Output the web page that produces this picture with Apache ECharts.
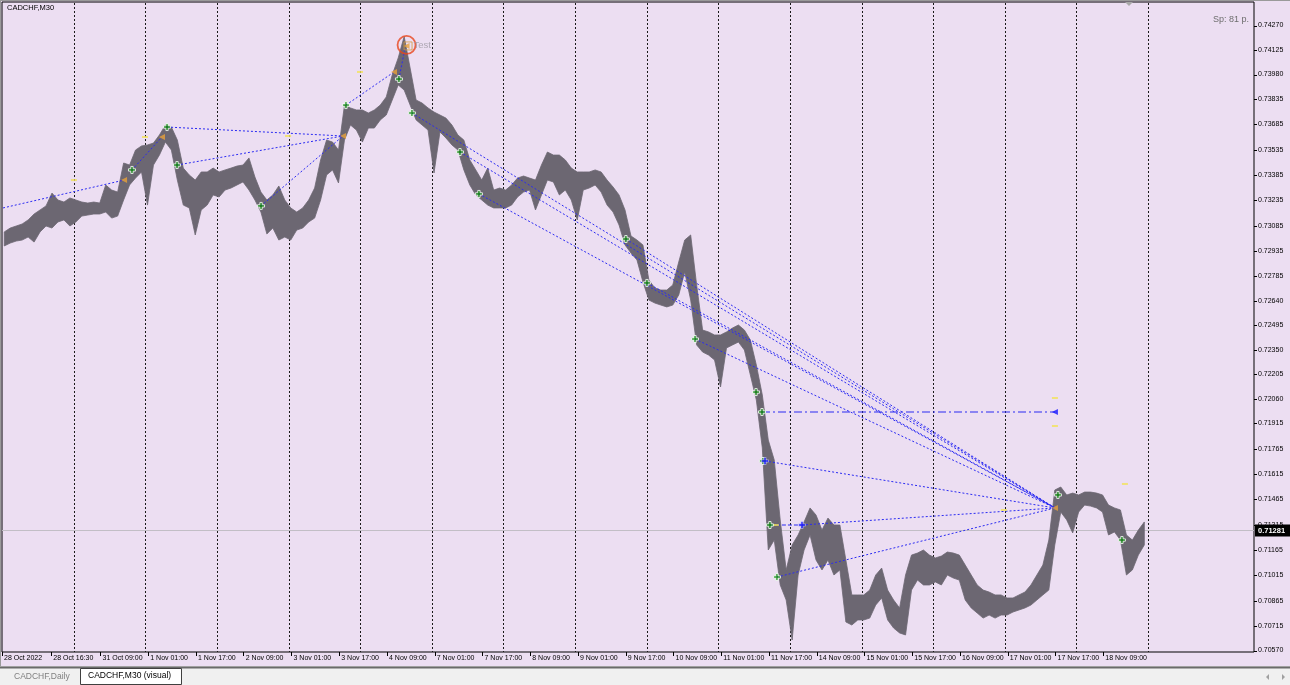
<!DOCTYPE html>
<html>
<head>
<meta charset="utf-8">
<script src="https://cdn.jsdelivr.net/npm/echarts@6.0.0/dist/echarts.min.js"></script>
<style>
  html,body{margin:0;padding:0;background:#ecdef2;}
  #c{width:1290px;height:685px;}
</style>
</head>
<body>
<div id="c"></div>
<script>
// ---------------- DATA ----------------
const symbolTitle = 'CADCHF,M30';
const spreadText = 'Sp: 81 p.';
const days = ['28 Oct','31 Oct','1 Nov','2 Nov','3 Nov','4 Nov','7 Nov','8 Nov','9 Nov','10 Nov','11 Nov','14 Nov','15 Nov','16 Nov','17 Nov','18 Nov'];
const barsPerDay = 48;      // M30 bars per day
const barsPerGroup = 4;     // each high/low pair below covers 2 hours (4 bars)

// 2-hour highs / lows (12 per day)
const highs = [
 0.73048,0.73071,0.73083,0.73095,0.73119,0.73154,0.73178,0.73202,0.73278,0.73237,0.73225,0.73249,
 0.73237,0.73225,0.73219,0.73225,0.73219,0.73326,0.73296,0.73284,0.73456,0.73444,0.73533,0.73557,
 0.73563,0.73574,0.73622,0.73681,0.73669,0.73592,0.73426,0.73385,0.73355,0.73403,0.73403,0.73426,
 0.73403,0.73415,0.73426,0.73438,0.73444,0.73486,0.73373,0.73284,0.73237,0.73267,0.73320,0.73237,
 0.73190,0.73166,0.73190,0.73237,0.73308,0.73474,0.73592,0.73580,0.73533,0.73799,0.73782,0.73770,
 0.73770,0.73752,0.73770,0.73799,0.73847,0.73977,0.74078,0.74205,0.74018,0.73829,0.73811,0.73782,
 0.73758,0.73740,0.73722,0.73681,0.73622,0.73592,0.73474,0.73415,0.73355,0.73426,0.73296,0.73308,
 0.73296,0.73326,0.73367,0.73379,0.73367,0.73355,0.73444,0.73521,0.73503,0.73503,0.73474,0.73426,
 0.73403,0.73403,0.73403,0.73415,0.73403,0.73355,0.73314,0.73267,0.73178,0.73024,0.73000,0.72971,
 0.72763,0.72716,0.72704,0.72704,0.72734,0.72870,0.73000,0.73030,0.72734,0.72467,0.72456,0.72438,
 0.72438,0.72456,0.72479,0.72497,0.72467,0.72408,0.72260,0.72083,0.71816,0.71698,0.71343,0.71047,
 0.71195,0.71254,0.71331,0.71414,0.71372,0.71283,0.71354,0.71313,0.71313,0.71106,0.70899,0.70899,
 0.70899,0.70928,0.71017,0.71058,0.70928,0.70869,0.70822,0.71017,0.71135,0.71147,0.71165,0.71135,
 0.71118,0.71129,0.71153,0.71147,0.71135,0.71076,0.71017,0.70958,0.70928,0.70916,0.70899,0.70899,
 0.70881,0.70881,0.70899,0.70916,0.70958,0.71017,0.71076,0.71224,0.71520,0.71538,0.71491,0.71502,
 0.71491,0.71508,0.71508,0.71502,0.71491,0.71431,0.71414,0.71402,0.71254,0.71224,0.71283,0.71331
];
const lows = [
 0.72965,0.72982,0.72994,0.73000,0.73018,0.72988,0.73048,0.73083,0.73071,0.73107,0.73119,0.73083,
 0.73107,0.73142,0.73148,0.73154,0.73154,0.73166,0.73130,0.73142,0.73237,0.73326,0.73367,0.73403,
 0.73207,0.73444,0.73503,0.73580,0.73533,0.73355,0.73207,0.73190,0.73030,0.73178,0.73207,0.73267,
 0.73255,0.73296,0.73308,0.73326,0.73344,0.73296,0.73237,0.73166,0.73036,0.73071,0.73000,0.73018,
 0.73000,0.73059,0.73071,0.73107,0.73130,0.73237,0.73385,0.73415,0.73338,0.73592,0.73681,0.73651,
 0.73580,0.73663,0.73663,0.73711,0.73740,0.73829,0.73918,0.73888,0.73799,0.73711,0.73681,0.73651,
 0.73397,0.73640,0.73604,0.73563,0.73533,0.73415,0.73326,0.73267,0.73237,0.73207,0.73190,0.73190,
 0.73190,0.73207,0.73255,0.73284,0.73296,0.73178,0.73267,0.73355,0.73344,0.73267,0.73296,0.73237,
 0.73119,0.73296,0.73308,0.73326,0.73284,0.73207,0.73166,0.73089,0.72971,0.72923,0.72882,0.72752,
 0.72645,0.72627,0.72615,0.72604,0.72615,0.72675,0.72811,0.72645,0.72379,0.72337,0.72319,0.72290,
 0.72130,0.72361,0.72379,0.72396,0.72349,0.72201,0.72053,0.71769,0.71165,0.71224,0.70958,0.70869,
 0.70632,0.71017,0.71165,0.71254,0.71106,0.71047,0.71106,0.71017,0.71047,0.70739,0.70721,0.70751,
 0.70751,0.70762,0.70839,0.70881,0.70751,0.70703,0.70674,0.70662,0.70928,0.70987,0.70958,0.70958,
 0.70976,0.70958,0.71017,0.70999,0.70987,0.70869,0.70822,0.70792,0.70762,0.70780,0.70762,0.70780,
 0.70780,0.70798,0.70810,0.70822,0.70839,0.70869,0.70899,0.70928,0.71195,0.71390,0.71343,0.71266,
 0.71390,0.71431,0.71425,0.71414,0.71390,0.71254,0.71272,0.71224,0.71017,0.71047,0.71135,0.71195
];
const bidPrice = 0.71281;

// time-axis labels (bar index from 28 Oct 00:00)
const xTickBars = [0,33,66,98,130,162,194,226,258,290,322,354,386,418,450,482,514,546,578,610,642,674,706,738];
const xTickLabels = ['28 Oct 2022','28 Oct 16:30','31 Oct 09:00','1 Nov 01:00','1 Nov 17:00','2 Nov 09:00','3 Nov 01:00','3 Nov 17:00','4 Nov 09:00','7 Nov 01:00','7 Nov 17:00','8 Nov 09:00','9 Nov 01:00','9 Nov 17:00','10 Nov 09:00','11 Nov 01:00','11 Nov 17:00','14 Nov 09:00','15 Nov 01:00','15 Nov 17:00','16 Nov 09:00','17 Nov 01:00','17 Nov 17:00','18 Nov 09:00'];
const yTickLabels = ['0.74270','0.74125','0.73980','0.73835','0.73685','0.73535','0.73385','0.73235','0.73085','0.72935','0.72785','0.72640','0.72495','0.72350','0.72205','0.72060','0.71915','0.71765','0.71615','0.71465','0.71315','0.71165','0.71015','0.70865','0.70715','0.70570'];

// trade objects: [bar1, price1, bar2, price2]
const dottedLines = [
 [0.7,0.73190, 81.8,0.73355],
 [87.1,0.73415, 107.2,0.73610],
 [110.6,0.73669, 228.5,0.73616],
 [117.3,0.73444, 228.5,0.73616],
 [173.6,0.73202, 228.5,0.73616],
 [230.5,0.73799, 262.7,0.73995],
 [266.0,0.73953, 270.1,0.74137],
 [274.7,0.73752, 705.6,0.71414],
 [306.9,0.73521, 705.6,0.71414],
 [319.6,0.73273, 705.6,0.71414],
 [418.1,0.73006, 705.6,0.71414],
 [432.2,0.72746, 705.6,0.71414],
 [464.4,0.72414, 705.6,0.71414],
 [511.3,0.71692, 705.6,0.71414],
 [536.1,0.71313, 705.6,0.71414],
 [519.3,0.71005, 705.6,0.71414]
];
const dashedLines = [[514.6,0.71313, 536.1,0.71313]];
const dashDotLines = [[509.3,0.71982, 705.6,0.71982]];
const greenMarks = [[87.1,0.73415],[110.6,0.73669],[117.3,0.73444],[173.6,0.73202],[230.5,0.73799],[266.0,0.73953],[274.7,0.73752],[306.9,0.73521],[319.6,0.73273],[418.1,0.73006],[432.2,0.72746],[464.4,0.72414],[505.3,0.72100],[509.3,0.71982],[509.9,0.71692],[514.6,0.71313],[519.3,0.71005],[707.6,0.71491],[750.5,0.71224]];
const orangeMarks = [[81.8,0.73355],[107.2,0.73610],[228.5,0.73616],[262.7,0.73995],[271.1,0.74149],[705.6,0.71414]];
const bluePlus = [[511.3,0.71692],[536.1,0.71313]];
const blueArrow = [[705.6,0.71982]];
const yellowMarks = [[48.2,0.73355],[95.8,0.73610],[191.7,0.73616],[239.9,0.73995],[705.6,0.72065],[705.6,0.71899],[752.5,0.71556],[671.4,0.71402],[518.6,0.71313]];
const testLabel = {bar:271.1, price:0.74155, text:'Test'};

// ---------------- CHART ----------------
const priceColor = '#6c6772';
const lineBlue = '#2b2bf2';
const FONT = 'Liberation Sans';
const yMin = 0.705612, yMax = 0.744092;

const chart = echarts.init(document.getElementById('c'), null, {renderer:'canvas', width:1290, height:685});

const bandData = highs.map((h,i)=>[i*barsPerGroup+1.5, lows[i], h]);
const sepData = days.map((d,i)=>[(i+1)*barsPerDay, 0.72]);
const xLabelMap = {};
xTickBars.forEach((b,i)=>{xLabelMap[b]=xTickLabels[i];});
const yTickValues = yTickLabels.map(Number);

const series = [];
// day separators
series.push({
  type:'custom', silent:true, z:1, data:sepData, encode:{x:0,y:1},
  renderItem:(params, api)=>{
    const cs = params.coordSys;
    const x = Math.round(api.coord([api.value(0), 0.72])[0]) + 0.5;
    return {type:'line', shape:{x1:x,y1:cs.y+1,x2:x,y2:cs.y+cs.height}, style:{stroke:'#1a1a1a', lineWidth:1, lineDash:[2,2]}};
  }
});
// price-axis ticks (outside the right frame)
series.push({
  type:'custom', silent:true, z:1, clip:false, data:yTickValues.map(v=>[0,v]), encode:{x:0,y:1},
  renderItem:(params, api)=>{
    const cs = params.coordSys;
    const y = Math.round(api.coord([0, api.value(1)])[1]) + 0.5;
    const x0 = cs.x + cs.width;
    return {type:'line', shape:{x1:x0,y1:y,x2:x0+3,y2:y}, style:{stroke:'#000', lineWidth:1}};
  }
});
// bid line + label
series.push({
  type:'custom', silent:true, z:1, clip:false, data:[[0, bidPrice]], encode:{x:0,y:1},
  renderItem:(params, api)=>{
    const cs = params.coordSys;
    const y = Math.round(api.coord([0, bidPrice])[1]) + 0.5;
    return {type:'group', children:[
      {type:'line', shape:{x1:cs.x,y1:y,x2:cs.x+cs.width,y2:y}, style:{stroke:'#c2bec6', lineWidth:1}},
      {type:'rect', shape:{x:cs.x+cs.width+1, y:y-6, width:36, height:12}, style:{fill:'#000'}, z2:50},
      {type:'text', style:{text:bidPrice.toFixed(5), x:cs.x+cs.width+4, y:y, fill:'#fff', fontSize:7.5, fontFamily:FONT, fontWeight:'bold', verticalAlign:'middle'}, z2:51}
    ]};
  }
});
// price band
series.push({
  type:'custom', silent:true, z:2, data:bandData, encode:{x:0, y:[1,2]},
  renderItem:(params, api)=>{
    if (params.dataIndex !== 0) return null;
    const top = bandData.map(d=>api.coord([d[0], d[2]]));
    const bot = bandData.map(d=>api.coord([d[0], d[1]])).reverse();
    return {type:'polygon', shape:{points: top.concat(bot)}, style:{fill:priceColor, stroke:priceColor, lineWidth:0.8, lineJoin:'miter'}};
  }
});
function addLines(list, type, width){
  list.forEach(s=>{
    series.push({type:'line', silent:true, z:3, symbol:'none', animation:false,
      data:[[s[0],s[1]],[s[2],s[3]]],
      lineStyle:{color:lineBlue, width:width, type:type}});
  });
}
addLines(dottedLines, [2,2], 1);
addLines(dashedLines, [4,2], 1.2);
addLines(dashDotLines, [8,3,2,3], 1.2);

const plusPath = 'path://M2,0H4V2H6V4H4V6H2V4H0V2H2Z';
series.push({type:'scatter', silent:true, z:5, data:yellowMarks, symbol:'rect', symbolSize:[6,2], itemStyle:{color:'#f2e25a'}});
series.push({type:'scatter', silent:true, z:6, data:orangeMarks, symbol:'triangle', symbolRotate:90, symbolSize:[6,6], itemStyle:{color:'#e9a13a'}});
series.push({type:'scatter', silent:true, z:6, data:greenMarks, symbol:plusPath, symbolSize:7, itemStyle:{color:'#0f8a0f', borderColor:'#ffffff', borderWidth:1}});
series.push({type:'scatter', silent:true, z:6, data:bluePlus, symbol:plusPath, symbolSize:7, itemStyle:{color:'#1414ff', borderColor:'#ffffff', borderWidth:0.5}});
series.push({type:'scatter', silent:true, z:6, data:blueArrow, symbol:'triangle', symbolRotate:90, symbolSize:[6,6], itemStyle:{color:'#1414ff'}});
// "Test" marker
series.push({type:'scatter', silent:true, z:7, data:[[testLabel.bar+1, testLabel.price-0.00006]], symbol:'rect', symbolSize:8,
  itemStyle:{color:'rgba(0,0,0,0)', borderColor:'#d49a3c', borderWidth:1}});
series.push({type:'scatter', silent:true, z:8, data:[[testLabel.bar, testLabel.price]], symbol:'circle', symbolSize:18,
  itemStyle:{color:'rgba(0,0,0,0)', borderColor:'#e8451c', borderWidth:1.8},
  label:{show:true, formatter:testLabel.text, position:'right', distance:-3, color:'#9d98a3', fontSize:9.5, fontFamily:FONT}});

const option = {
  animation:false,
  backgroundColor:'#ecdef2',
  grid:{left:2, top:2, right:36, bottom:33, show:true, borderColor:'#000', borderWidth:1, backgroundColor:'transparent'},
  xAxis:{type:'value', min:0, max:839,
    axisLine:{show:false}, splitLine:{show:false},
    axisTick:{show:true, customValues:xTickBars, length:4, lineStyle:{color:'#000'}},
    axisLabel:{show:true, customValues:xTickBars, formatter:(v)=>xLabelMap[Math.round(v)]||'', align:'left', margin:3,
      fontSize:7, color:'#000', fontFamily:FONT, padding:[0,0,0,2], hideOverlap:false}
  },
  yAxis:{type:'value', position:'right', min:yMin, max:yMax,
    axisLine:{show:false}, splitLine:{show:false},
    axisTick:{show:false},
    axisLabel:{show:true, customValues:yTickValues, formatter:(v)=>v.toFixed(5), margin:4, fontSize:7, color:'#000', fontFamily:FONT}
  },
  graphic:[
    {type:'rect', left:0, top:0, shape:{width:1290,height:1}, style:{fill:'#9a9a9a'}, silent:true},
    {type:'rect', left:0, top:0, shape:{width:1,height:668}, style:{fill:'#9a9a9a'}, silent:true},
    {type:'text', left:7, top:4, style:{text:symbolTitle, fontSize:7.5, fontFamily:FONT, fill:'#000'}, silent:true},
    {type:'text', left:1213, top:15, style:{text:spreadText, fontSize:9, fontFamily:FONT, fill:'#6e6e6e'}, silent:true},
    {type:'polygon', shape:{points:[[1125,2],[1133,2],[1129,6]]}, style:{fill:'#a8a8a8'}, silent:true},
    {type:'rect', left:0, top:666, shape:{width:1290,height:19}, style:{fill:'#f0f0f0'}, silent:true},
    {type:'rect', left:0, top:666, shape:{width:1290,height:1}, style:{fill:'#a0a0a0'}, silent:true},
    {type:'rect', left:0, top:667, shape:{width:1290,height:1.5}, style:{fill:'#6a6a6a'}, silent:true},
    {type:'text', left:14, top:672, style:{text:'CADCHF,Daily', fontSize:8.5, fontFamily:FONT, fill:'#808080'}, silent:true},
    {type:'rect', left:80, top:668, shape:{width:101,height:16}, style:{fill:'#ffffff', stroke:'#404040', lineWidth:1}, silent:true},
    {type:'text', left:88, top:671, style:{text:'CADCHF,M30 (visual)', fontSize:8.5, fontFamily:FONT, fill:'#000'}, silent:true},
    {type:'polygon', shape:{points:[[1269,674],[1269,680],[1266,677]]}, style:{fill:'#a0a0a0'}, silent:true},
    {type:'polygon', shape:{points:[[1282,674],[1282,680],[1285,677]]}, style:{fill:'#a0a0a0'}, silent:true}
  ],
  series:series
};
chart.setOption(option);
</script>
</body>
</html>
